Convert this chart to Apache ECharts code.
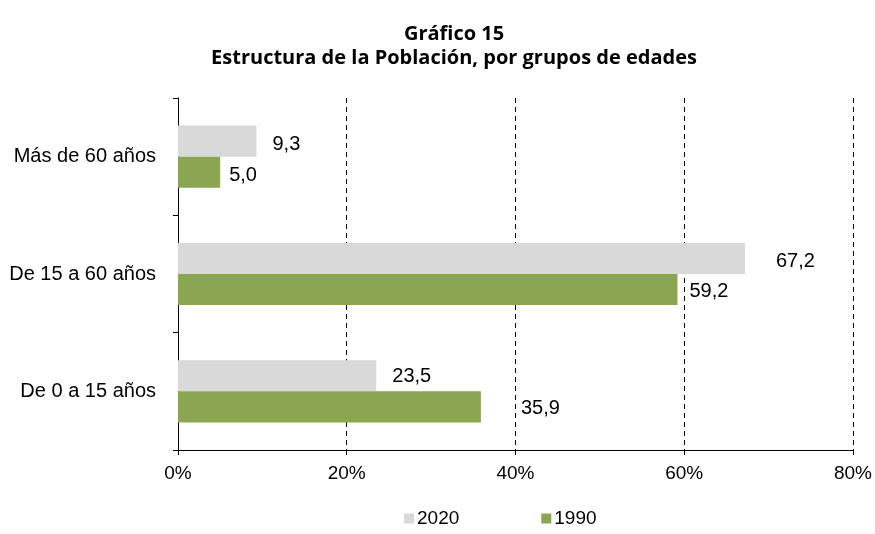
<!DOCTYPE html>
<html>
<head>
<meta charset="utf-8">
<script src="https://cdn.jsdelivr.net/npm/echarts@6/dist/echarts.min.js"></script>
<style>
  html, body { margin: 0; padding: 0; background: #fff; }
  #chart { width: 875px; height: 534px; }
</style>
</head>
<body>
<div id="chart"></div>
<script>
// grupos de edades, de abajo hacia arriba
const categories = ['De 0 a 15 años', 'De 15 a 60 años', 'Más de 60 años'];
const values2020 = [23.5, 67.2, 9.3];
const values1990 = [35.9, 59.2, 5.0];
const xTicks     = [0, 20, 40, 60, 80];

// desplazamiento de etiquetas como en el original [dx, dy]
const shift2020 = [[16, 1], [31, 3], [16, 3]];
const shift1990 = [[40, 2], [12, 2], [9, 3]];

const baseFont = { fontFamily: 'Liberation Sans', color: '#000' };
const fmt = v => v.toFixed(1).replace('.', ',');

function buildData(values, shifts) {
    return values.map((v, i) => ({
        value: v,
        label: { offset: [shifts[i][0], shifts[i][1]] },
    }));
}

const chart = echarts.init(document.getElementById('chart'));

chart.setOption({
    animation: false,
    title: {
        text: 'Gráfico 15\nEstructura de la Población, por grupos de edades',
        left: 449,
        textAlign: 'center',
        top: 17,
        textStyle: {
            fontFamily: 'Open Sans',
            fontWeight: 'bold',
            fontSize: 20,
            lineHeight: 24,
            color: '#000',
        },
    },
    legend: {
        data: ['2020', '1990'],
        bottom: 1,
        left: 399,
        itemWidth: 10,
        itemHeight: 10,
        itemGap: 82,
        icon: 'rect',
        textStyle: { ...baseFont, fontSize: 19, padding: [0, 0, 0, -2] },
    },
    grid: { left: 178, right: 21, top: 98, bottom: 84 },
    xAxis: {
        type: 'value',
        min: 0,
        max: 80,
        interval: 20,
        axisLine: { show: true, lineStyle: { color: '#000', width: 1 } },
        axisTick: { show: true, length: 5, lineStyle: { color: '#000' } },
        axisLabel: { ...baseFont, fontSize: 19, margin: 14, formatter: v => xTicks.includes(v) ? v + '%' : '' },
        splitLine: { show: true, lineStyle: { color: '#000', type: [5, 4], width: 1 } },
    },
    yAxis: {
        type: 'category',
        data: categories,
        axisLine: { show: true, lineStyle: { color: '#000', width: 1 } },
        axisTick: { show: true, length: 5, lineStyle: { color: '#000' } },
        axisLabel: { ...baseFont, fontSize: 20, margin: 22 },
    },
    series: [
        {
            name: '2020',
            type: 'bar',
            data: buildData(values2020, shift2020),
            barGap: '0%',
            barCategoryGap: '47%',
            itemStyle: { color: '#d9d9d9' },
            label: { show: true, position: 'right', distance: 0, ...baseFont, fontSize: 20, formatter: p => fmt(p.value) },
        },
        {
            name: '1990',
            type: 'bar',
            data: buildData(values1990, shift1990),
            barGap: '0%',
            barCategoryGap: '47%',
            itemStyle: { color: '#8aa650' },
            label: { show: true, position: 'right', distance: 0, ...baseFont, fontSize: 20, formatter: p => fmt(p.value) },
        },
    ],
});
</script>
</body>
</html>
